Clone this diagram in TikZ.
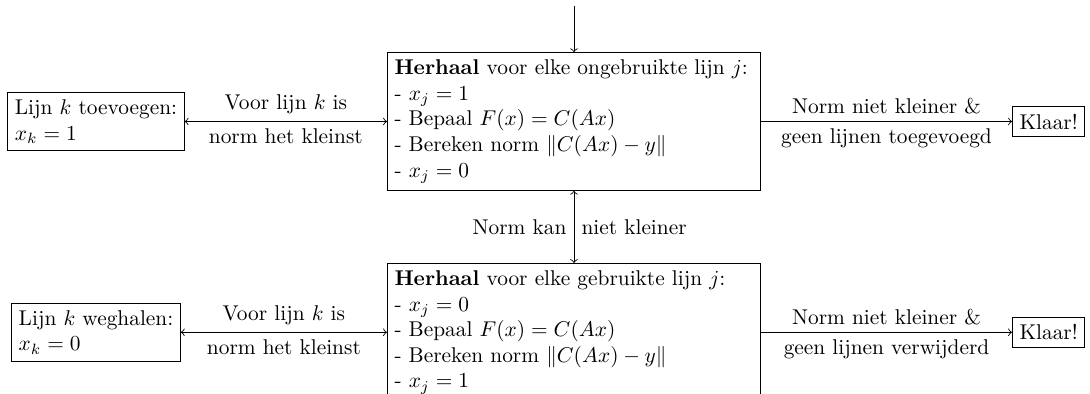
\documentclass[tikz,border=0pt]{standalone}
\usepackage{amsmath}
\begin{document}
\begin{tikzpicture}[x=0.468pt,y=-0.468pt,
  bigbox/.style={draw, align=left, text width=168pt, inner sep=3.33pt},
  smallbox/.style={draw, align=left},
  lbl/.style={inner sep=3.33pt}]
\useasboundingbox (0,0) rectangle (1090,394);
\node[bigbox] (top) at (574,121.5) {\textbf{Herhaal} voor elke ongebruikte lijn $j$:\\
- $x_j = 1$\\
- Bepaal $F(x) = C(Ax)$\\
- Bereken norm $\|C(Ax)-y\|$\\
- $x_j = 0$};
\node[bigbox, anchor=north] (bot) at (574,263) {\textbf{Herhaal} voor elke gebruikte lijn $j$:\\
- $x_j = 0$\\
- Bepaal $F(x) = C(Ax)$\\
- Bereken norm $\|C(Ax)-y\|$\\
- $x_j = 1$};
\coordinate (lc) at (96,0);
\node[smallbox] (ladd) at (lc |- top.west) {Lijn $k$ toevoegen:\\ $x_k = 1$};
\node[smallbox] (lrem) at (lc |- bot.west) {Lijn $k$ weghalen:\\ $x_k = 0$};
\coordinate (kc) at (1012,0);
\node[draw, anchor=west] (k1) at (kc |- top.east) {Klaar!};
\node[draw, anchor=west] (k2) at (kc |- bot.east) {Klaar!};
\coordinate (start) at (574,6);
\draw[->] (start) -- (top.north);
\draw[<->] (top.south) -- node[lbl, left] {Norm kan} node[lbl, right] {niet kleiner} (bot.north);
\draw[<->] (top.west -| ladd.east) -- node[lbl, above] {Voor lijn $k$ is} node[lbl, below] {norm het kleinst} (top.west);
\draw[<->] (bot.west -| lrem.east) -- node[lbl, above] {Voor lijn $k$ is} node[lbl, below] {norm het kleinst} (bot.west);
\draw[->] (top.east) -- node[lbl, above] {Norm niet kleiner \&} node[lbl, below] {geen lijnen toegevoegd} (top.east -| k1.west);
\draw[->] (bot.east) -- node[lbl, above] {Norm niet kleiner \&} node[lbl, below] {geen lijnen verwijderd} (bot.east -| k2.west);
\end{tikzpicture}
\end{document}
